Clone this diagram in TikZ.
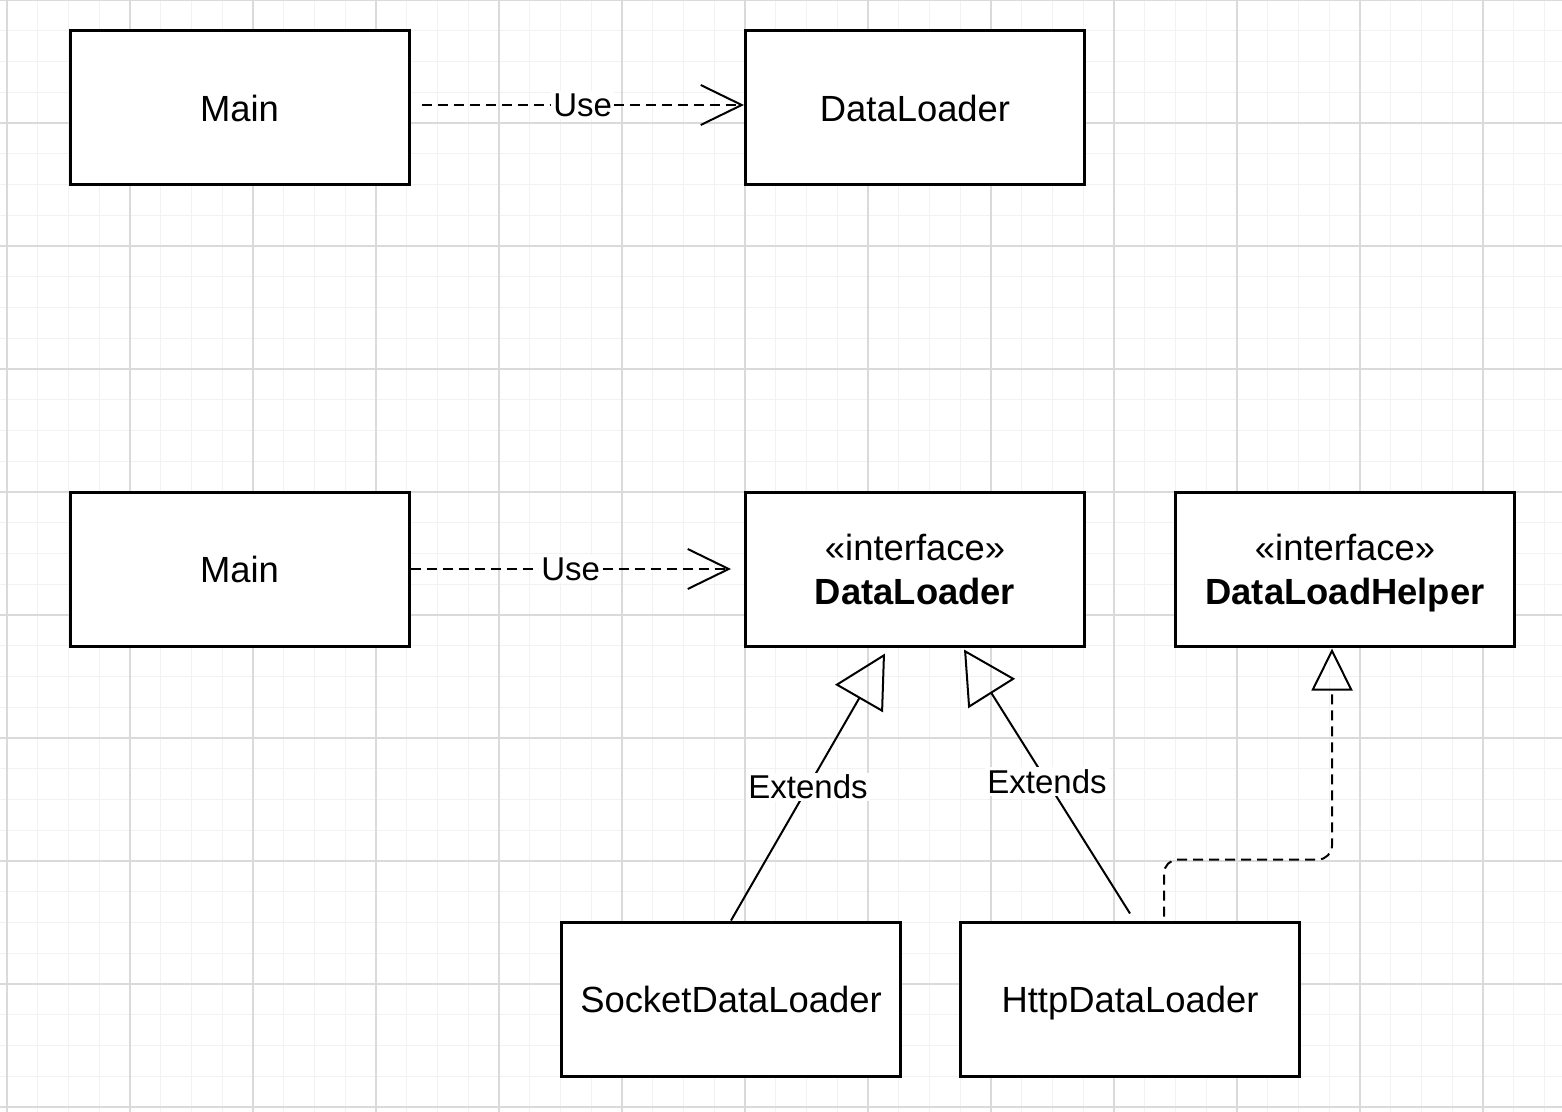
\documentclass[tikz,border=0pt]{standalone}
\usepackage{fontspec}
\setmainfont{Liberation Sans}
\usetikzlibrary{arrows.meta}
\definecolor{gridminor}{HTML}{F2F2F2}
\definecolor{gridmajor}{HTML}{DADADA}
\tikzset{
  umlbox/.style={draw,line width=1.5pt,fill=white,minimum width=169.5pt,minimum height=77pt,
    inner sep=0pt,align=center,text depth=0pt,font=\fontsize{18.2}{22}\selectfont},
  edgelabel/.style={fill=white,inner sep=1pt,font=\fontsize{16.5}{19}\selectfont},
  uses/.style={line width=1pt,dash pattern=on 5pt off 3pt,-{Straight Barb[length=20.5pt,width=20pt]}},
  extends/.style={line width=1pt,-{Triangle[open,length=26pt,width=27.5pt]}},
  realizes/.style={line width=1pt,dash pattern=on 5pt off 3pt,rounded corners=7pt,
    -{Triangle[open,length=21pt,width=20.5pt]}},
}

\begin{document}
\begin{tikzpicture}[x=0.5pt,y=-0.5pt]
  \useasboundingbox (0,0) rectangle (1562,1112);
  % grid
  \foreach \k in {0,...,50}
    \draw[gridminor,line width=0.7pt] ({7+30.75*\k},0) -- ({7+30.75*\k},1112);
  \foreach \k in {0,...,36}
    \draw[gridminor,line width=0.7pt] (0,{30.75*\k}) -- (1562,{30.75*\k});
  \foreach \k in {0,...,12}
    \draw[gridmajor,line width=0.6pt] ({7+123*\k},0) -- ({7+123*\k},1112);
  \foreach \k in {0,...,9}
    \draw[gridmajor,line width=0.6pt] (0,{123*\k}) -- (1562,{123*\k});
  % classes
  \node[umlbox] (main1) at (239.5,108) {Main};
  \node[umlbox] (loader) at (915,108) {DataLoader};
  \node[umlbox] (main2) at (239.5,569) {Main};
  \node[umlbox] (iloader) at (915,569) {«interface»\\\textbf{DataLoader}};
  \node[umlbox] (helper) at (1345,569) {«interface»\\\textbf{DataLoadHelper}};
  \node[umlbox] (socket) at (731,999) {SocketDataLoader};
  \node[umlbox] (http) at (1130,999) {HttpDataLoader};
  % end points of connectors
  \coordinate (use1s) at ([xshift=5.5pt,yshift=1.5pt]main1.east);
  \coordinate (use1e) at ([yshift=1.5pt]loader.west);
  \coordinate (use2e) at ([xshift=-6.5pt]iloader.west);
  \coordinate (ext1e) at ([xshift=-15pt,yshift=-3pt]iloader.south);
  \coordinate (ext2s) at ([yshift=3.5pt]http.north);
  \coordinate (ext2e) at ([xshift=24.5pt,yshift=-1pt]iloader.south);
  \coordinate (reals) at ([xshift=17pt,yshift=2pt]http.north);
  \coordinate (reale) at ([xshift=-6.5pt,yshift=-0.5pt]helper.south);
  % dependencies
  \draw[uses] (use1s) -- node[edgelabel] {Use} (use1e);
  \draw[uses] (main2.east) -- node[edgelabel] {Use} (use2e);
  % generalisations
  \draw[extends] (socket.north) -- node[edgelabel] {Extends} (ext1e);
  \draw[extends] (ext2s) -- node[edgelabel] {Extends} (ext2e);
  % realisation
  \draw[realizes] (reals) -- ++(0,-57) -| (reale);
\end{tikzpicture}
\end{document}
